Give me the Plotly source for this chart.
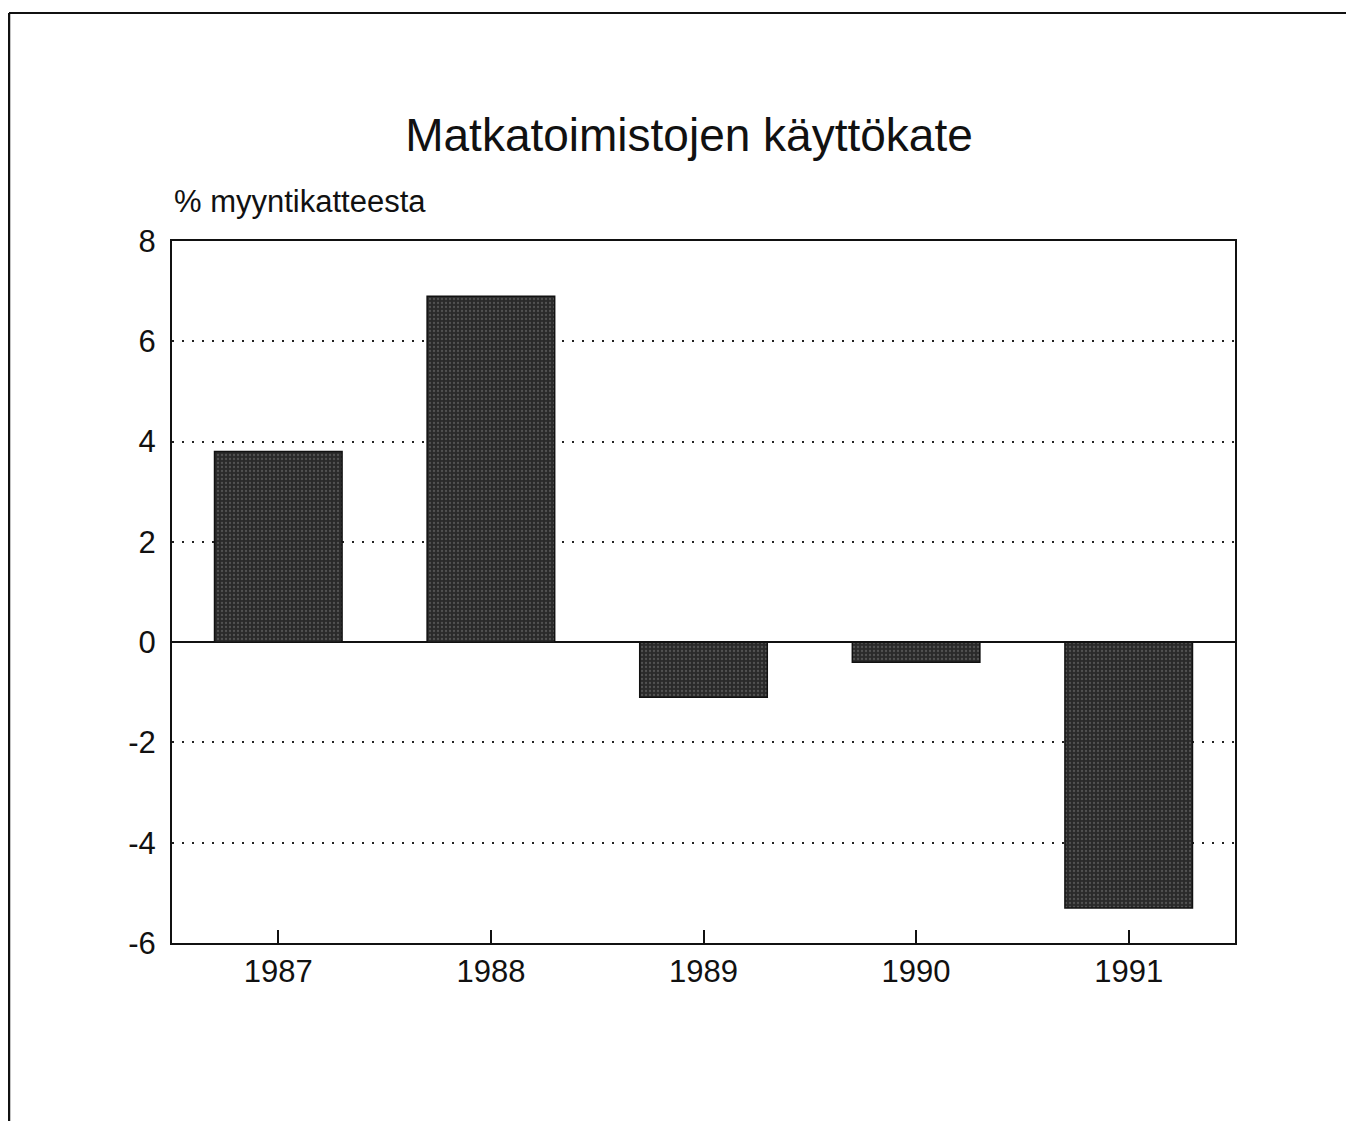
import plotly.graph_objects as go

years = ["1987", "1988", "1989", "1990", "1991"]
values = [3.8, 6.9, -1.1, -0.4, -5.3]
y_ticks = [-6, -4, -2, 0, 2, 4, 6, 8]
y_tick_labels = ["-6", "-4", "-2", "0", "2", "4", "6", "8"]

title_text = "Matkatoimistojen käyttökate"
y_title = "% myyntikatteesta"

font_family = "Liberation Sans, Arial, Helvetica, sans-serif"

W, H = 1354, 1121
L, T, PW, PH = 164, 233, 1063, 702

fig = go.Figure()
fig.add_trace(go.Bar(
    x=years, y=values, width=0.6,
    marker=dict(
        color="#2a2a2a",
        line=dict(color="#111111", width=1.5),
        pattern=dict(shape=".", fgcolor="#7a7a7a", bgcolor="#2a2a2a", size=4, solidity=0.25),
    ),
    showlegend=False,
))

top_y = 1 + (T - 5) / PH
left_x = -(L - 1) / PW

fig.update_layout(
    width=W, height=H,
    margin=dict(l=L, r=W - L - PW, t=T, b=H - T - PH),
    paper_bgcolor="white", plot_bgcolor="white",
    font=dict(family=font_family, color="#111111", size=32),
    title=dict(text=title_text, x=681 / W, xanchor="center", y=1 - 127 / H, yanchor="middle",
               font=dict(size=46, family=font_family, color="#111111")),
    annotations=[dict(text=y_title, xref="paper", yref="paper", x=0, y=1, xanchor="left",
                      yanchor="bottom", yshift=20, showarrow=False,
                      font=dict(size=31, family=font_family, color="#111111"))],
    shapes=[
        dict(type="line", xref="paper", yref="paper", x0=left_x, x1=1.3, y0=top_y, y1=top_y,
             line=dict(color="#111111", width=2)),
        dict(type="line", xref="paper", yref="paper", x0=left_x, x1=left_x,
             y0=top_y, y1=-0.4, line=dict(color="#111111", width=2.5)),
    ],
)

fig.update_xaxes(
    range=[-0.5, 4.5], showline=True, mirror=True, linecolor="#111111", linewidth=2,
    ticks="inside", ticklen=13, tickwidth=2, tickcolor="#111111",
    showgrid=False, tickfont=dict(size=31), ticklabelstandoff=0,
)
fig.update_yaxes(
    range=[-6, 8], tickvals=y_ticks, ticktext=y_tick_labels,
    showline=True, mirror=True, linecolor="#111111", linewidth=2,
    ticks="", showgrid=True, gridcolor="#222222", griddash="2px,8px", gridwidth=2,
    zeroline=True, zerolinecolor="#111111", zerolinewidth=2,
    tickfont=dict(size=31), ticklabelstandoff=8,
)

fig.write_html("out.html")
